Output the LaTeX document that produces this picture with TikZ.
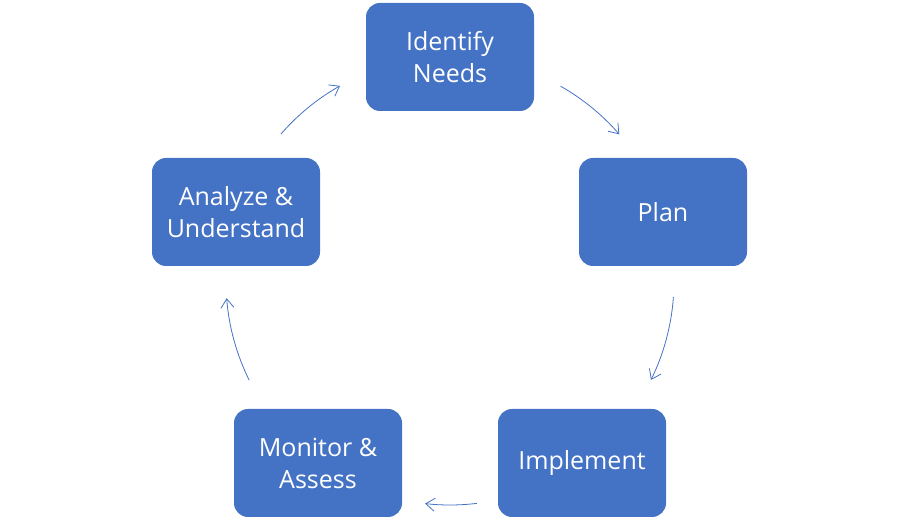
\documentclass[tikz,border=0pt]{standalone}
\usepackage{fontspec}
\setmainfont{Open Sans}
\usetikzlibrary{arrows.meta,calc}
\definecolor{boxblue}{HTML}{4472C4}
\tikzset{
  stepbox/.style={rectangle, rounded corners=14pt, fill=boxblue, draw=none,
    minimum width=168pt, minimum height=108pt, inner sep=0pt,
    text=white, align=center,
    font=\fontsize{25}{32}\selectfont},
  cyclearrow/.style={draw=boxblue, line width=0.8pt,
    -{Straight Barb[length=9pt,width=13pt,line width=0.8pt]}}
}
\begin{document}
\begin{tikzpicture}[x=1pt,y=1pt]
  \useasboundingbox (0,0) rectangle (900,526);
  \coordinate (c) at (450,245);
  \node[stepbox] (identify) at (450,469) {Identify\\Needs};
  \node[stepbox] (plan) at (663,314) {Plan};
  \node[stepbox] (implement) at (582,63) {Implement};
  \node[stepbox] (monitor) at (318,63) {Monitor \&\\Assess};
  \node[stepbox] (analyze) at (236,314) {Analyze \&\\Understand};
  \coordinate (s1) at ($(c)+(60.4:224)$);
  \coordinate (s2) at ($(c)+(-4.1:224)$);
  \coordinate (s3) at ($(c)+(-83.1:224)$);
  \coordinate (s4) at ($(c)+(-153.7:224)$);
  \coordinate (s5) at ($(c)+(139:224)$);
  \draw[cyclearrow] (s1) arc[start angle=60.4, end angle=40.9, radius=224];
  \draw[cyclearrow] (s2) arc[start angle=-4.1, end angle=-26.2, radius=224];
  \draw[cyclearrow] (s3) arc[start angle=-83.1, end angle=-96.4, radius=224];
  \draw[cyclearrow] (s4) arc[start angle=-153.7, end angle=-175.6, radius=224];
  \draw[cyclearrow] (s5) arc[start angle=139, end angle=119.4, radius=224];
\end{tikzpicture}
\end{document}
